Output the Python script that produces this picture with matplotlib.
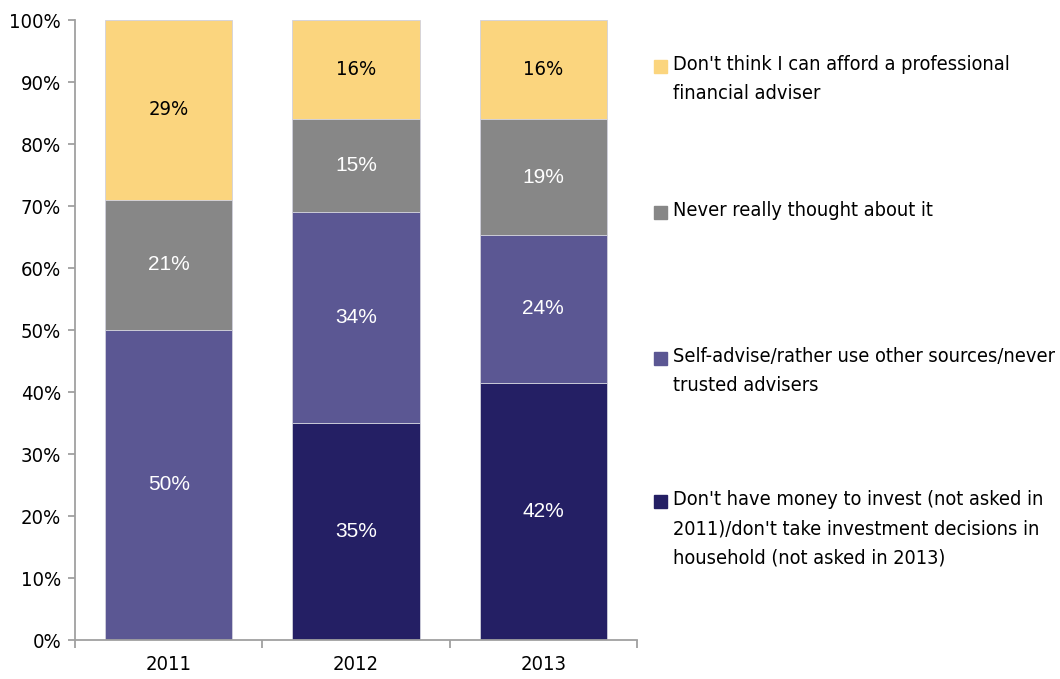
import numpy as np
import matplotlib
matplotlib.use("Agg")
import matplotlib.pyplot as plt
from matplotlib.patches import Rectangle
from matplotlib import font_manager as fm

years = ['2011', '2012', '2013']
no_money = [0, 35, 41.5]
self_advise = [50, 34, 23.8]
never_thought = [21, 15, 18.7]
cant_afford = [29, 16, 16]

series = [no_money, self_advise, never_thought, cant_afford]
colors = ['#241F64', '#5B5793', '#878787', '#FBD57E']
label_colors = ['white', 'white', 'white', 'black']
legend_labels = [
    "Don't have money to invest (not asked in\n2011)/don't take investment decisions in\nhousehold (not asked in 2013)",
    "Self-advise/rather use other sources/never\ntrusted advisers",
    "Never really thought about it",
    "Don't think I can afford a professional\nfinancial adviser",
]

tick_font = fm.FontProperties(family='DejaVu Sans', stretch='condensed', size=14.5)
leg_font = fm.FontProperties(family='DejaVu Sans', stretch='condensed', size=14.3)

fig = plt.figure(figsize=(10.6, 6.79), dpi=100)
ax = fig.add_axes([75/1060, 39/679, (637-75)/1060, 620/679])

x = np.arange(len(years))
bottom = np.zeros(len(years))
for vals, c, lc in zip(series, colors, label_colors):
    vals = np.array(vals, dtype=float)
    ax.bar(x, vals, 0.68, bottom=bottom, color=c, edgecolor='#d0d0dc', linewidth=0.6)
    for xi, b, v in zip(x, bottom, vals):
        if v > 0:
            if lc == 'black':
                ax.text(xi, b + v / 2, '%d%%' % round(v), ha='center', va='center',
                        color=lc, fontproperties=tick_font)
            else:
                ax.text(xi, b + v / 2, '%d%%' % round(v), ha='center', va='center',
                        color=lc, fontsize=15, family='Liberation Sans')
    bottom += vals

ax.set_xlim(-0.5, 2.5)
ax.set_ylim(0, 100)
ax.set_yticks(np.arange(0, 101, 10))
ax.set_yticklabels(['%d%%' % t for t in range(0, 101, 10)], fontproperties=tick_font)
ax.set_xticks(x)
ax.set_xticklabels(years, fontproperties=tick_font)
ax.set_xticks([-0.5, 0.5, 1.5, 2.5], minor=True)
ax.tick_params(axis='x', which='major', length=0, pad=11)
ax.tick_params(axis='x', which='minor', length=6, color='#a0a0a0', width=1.3)
ax.tick_params(axis='y', length=5, color='#a0a0a0', width=1.3, pad=5)
for s in ['top', 'right']:
    ax.spines[s].set_visible(False)
for s in ['left', 'bottom']:
    ax.spines[s].set_color('#a0a0a0')
    ax.spines[s].set_linewidth(1.3)

# legend drawn by hand, top to bottom
leg_y = [66, 212, 358, 501]
for i, y in enumerate(leg_y):
    k = len(series) - 1 - i
    fig.patches.append(Rectangle((654/1060, 1 - (y + 7)/679), 13/1060, 13/679,
                                 transform=fig.transFigure, color=colors[k]))
    fig.text(673/1060, 1 - (y - 11)/679, legend_labels[k], ha='left', va='top',
             fontproperties=leg_font, linespacing=1.67)

fig.savefig('out.png', dpi=100)
